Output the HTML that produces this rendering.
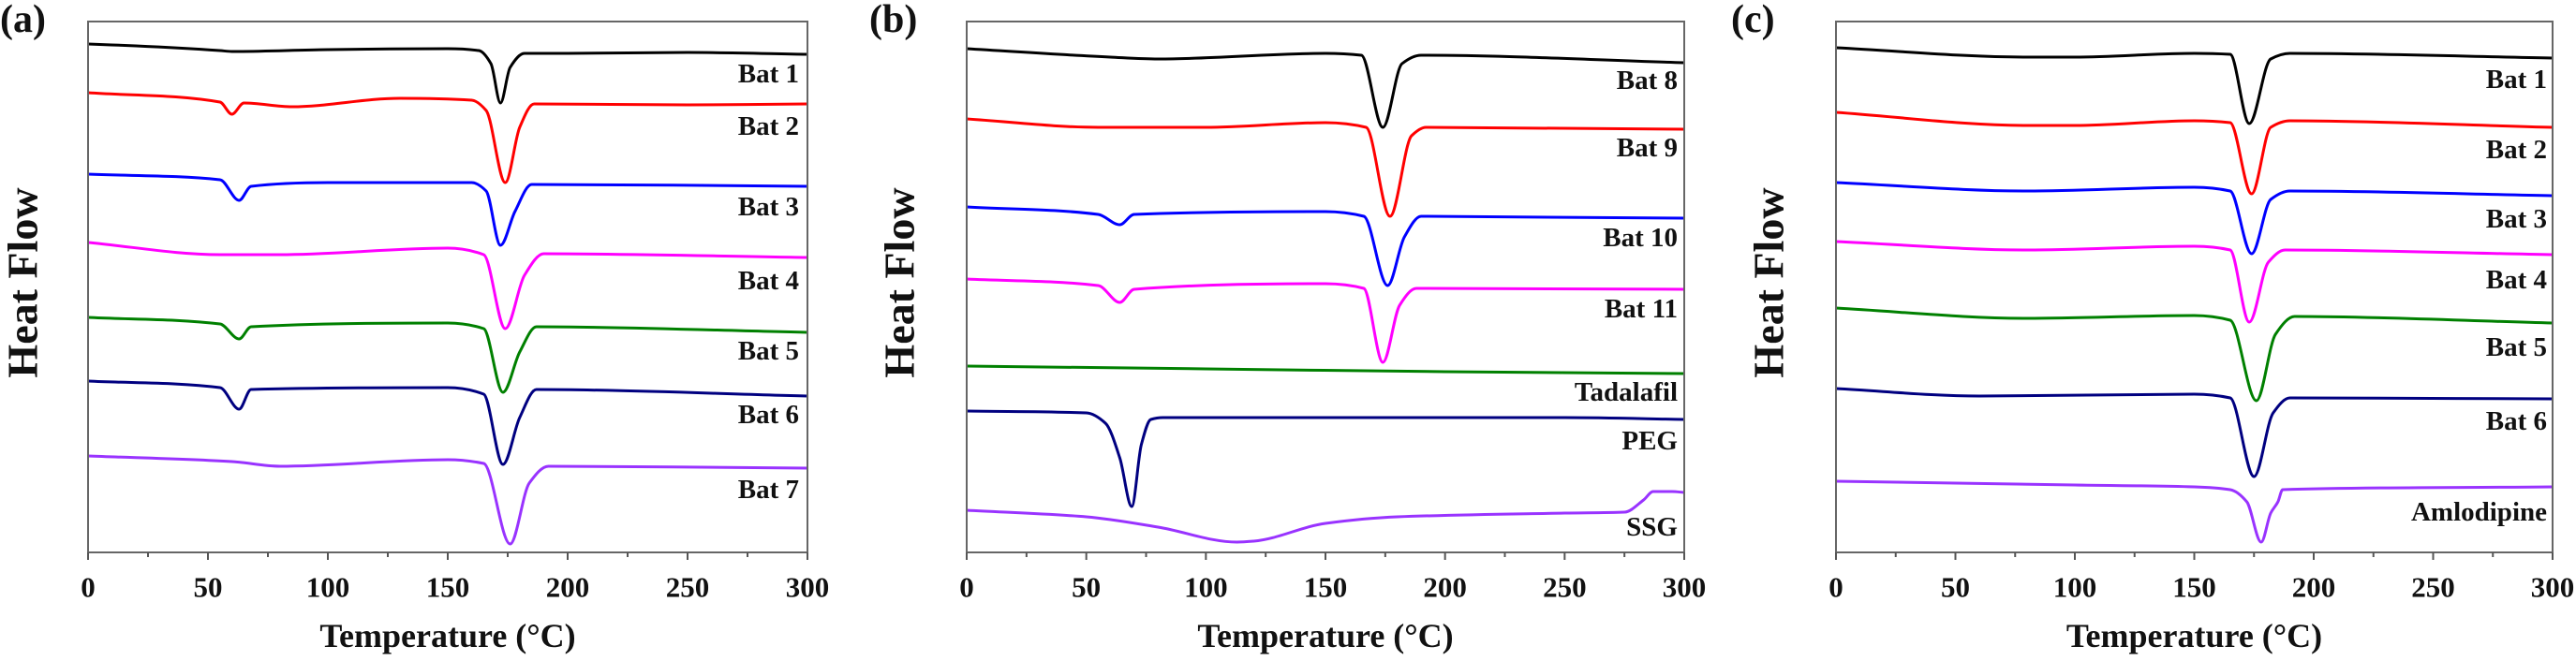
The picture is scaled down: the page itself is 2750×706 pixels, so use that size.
<!DOCTYPE html>
<html><head><meta charset="utf-8">
<style>
html,body{margin:0;padding:0;background:#fff;}
svg{display:block;font-family:"Liberation Serif",serif;font-weight:bold;}
</style></head>
<body>
<svg id="fig" width="2750" height="706" viewBox="0 0 2750 706" xmlns="http://www.w3.org/2000/svg"></svg>
<script>
// ---- data: temperature (°C) and heat flow (arbitrary units, offset-stacked) ----
const xTicks = [0, 50, 100, 150, 200, 250, 300];
const panelTitles = ["(a)", "(b)", "(c)"];

// Panel (a)
const aNames = ["Bat 1","Bat 2","Bat 3","Bat 4","Bat 5","Bat 6","Bat 7"];
const aColors = ["#000000","#ff0000","#0000ff","#ff00ff","#008000","#000080","#9933ff"];
const aLabelY = [511, 455, 369, 290, 215, 147, 67];
const aT1 = [0,20,55,60,100,150,163,168,172,176,182,200,250,300];
const aH1 = [543,541,536,535,537,538,536,522,480,518,533,533,534,532];
const aT2 = [0,55,60,65,85,130,160,166,174,180,186,250,300];
const aH2 = [491,481,468,480,476,485,483,472,395,454,479,478,479];
const aT3 = [0,55,63,68,100,160,166,172,178,185,300];
const aH3 = [404,398,376,391,395,395,386,328,364,393,391];
const aT4 = [0,55,80,150,165,174,182,190,300];
const aH4 = [331,318,318,325,318,239,296,319,315];
const aT5 = [0,55,63,68,150,165,173,180,187,300];
const aH5 = [251,244,228,241,245,239,171,214,241,235];
const aT6 = [0,55,63,68,150,165,173,180,187,300];
const aH6 = [183,176,153,174,176,169,94,144,174,167];
const aT7 = [0,60,80,150,165,176,184,192,300];
const aH7 = [103,97,92,99,95,9,74,92,90];

// Panel (b)
const bNames = ["Bat 8","Bat 9","Bat 10","Bat 11","Tadalafil","PEG","SSG"];
const bColors = ["#000000","#ff0000","#0000ff","#ff00ff","#008000","#000080","#9933ff"];
const bLabelY = [504, 432, 336, 260, 171, 119, 27];
const bT1 = [0,60,80,150,165,174,182,190,300];
const bH1 = [538,529,527,533,531,454,522,531,523];
const bT2 = [0,55,100,150,167,177,186,192,300];
const bH2 = [463,454,454,459,454,359,445,454,452];
const bT3 = [0,55,64,70,150,166,176,183,190,300];
const bH3 = [369,361,350,361,364,359,285,337,359,357];
const bT4 = [0,55,64,70,150,166,174,181,188,300];
const bH4 = [292,285,267,281,287,282,203,264,282,281];
const bT5 = [0,100,200,300];
const bH5 = [199,196,193,191];
const bT6 = [0,50,58,64,69,73,77,82,250,300];
const bH6 = [151,149,138,101,49,115,142,144,144,142];
const bT7 = [0,50,80,113,120,150,180,250,275,283,287,295,300];
const bH7 = [45,38,27,11,12,31,38,42,43,56,65,65,64];

// Panel (c)
const cNames = ["Bat 1","Bat 2","Bat 3","Bat 4","Bat 5","Bat 6","Amlodipine"];
const cColors = ["#000000","#ff0000","#0000ff","#ff00ff","#008000","#000080","#9933ff"];
const cLabelY = [505, 430, 356, 291, 219, 140, 43];
const cT1 = [0,80,100,150,165,173,182,190,300];
const cH1 = [539,529,529,533,532,458,527,533,528];
const cT2 = [0,80,100,150,165,174,182,190,300];
const cH2 = [470,456,456,461,459,383,454,461,454];
const cT3 = [0,80,150,165,174,182,190,300];
const cH3 = [395,386,390,386,319,377,386,381];
const cT4 = [0,80,150,165,173,181,188,300];
const cH4 = [332,323,327,323,246,310,323,318];
const cT5 = [0,80,150,165,176,184,192,300];
const cH5 = [261,250,253,248,162,233,252,245];
const cT6 = [0,60,150,165,175,183,190,300];
const cH6 = [175,167,169,165,81,149,165,164];
const cT7 = [0,100,150,165,172,178,182,185,187,300];
const cH7 = [76,72,70,67,54,11,42,54,67,70];

const panels = [
  {names:aNames, colors:aColors, labelY:aLabelY, T:[aT1,aT2,aT3,aT4,aT5,aT6,aT7], H:[aH1,aH2,aH3,aH4,aH5,aH6,aH7], left:94, right:862, labelRight:853, titleX:0, yTitleX:24},
  {names:bNames, colors:bColors, labelY:bLabelY, T:[bT1,bT2,bT3,bT4,bT5,bT6,bT7], H:[bH1,bH2,bH3,bH4,bH5,bH6,bH7], left:1032, right:1798, labelRight:1791, titleX:928, yTitleX:960},
  {names:cNames, colors:cColors, labelY:cLabelY, T:[cT1,cT2,cT3,cT4,cT5,cT6,cT7], H:[cH1,cH2,cH3,cH4,cH5,cH6,cH7], left:1960, right:2725, labelRight:2719, titleX:1848, yTitleX:1888}
];

const NS = "http://www.w3.org/2000/svg";
const svg = document.getElementById("fig");
const TOP = 23, BOTTOM = 590, YMAX = 567;
function mk(tag, attrs, parent){
  const e = document.createElementNS(NS, tag);
  for (const k in attrs) e.setAttribute(k, attrs[k]);
  (parent||svg).appendChild(e);
  return e;
}
// monotone-in-x cubic (Fritsch–Carlson)
function smoothPath(pts){
  const n = pts.length;
  const dx = [], s = [];
  for (let i = 0; i < n-1; i++) { dx.push(pts[i+1][0]-pts[i][0]); s.push((pts[i+1][1]-pts[i][1])/dx[i]); }
  const m = new Array(n);
  m[0] = s[0]; m[n-1] = s[n-2];
  for (let i = 1; i < n-1; i++) {
    if (s[i-1]*s[i] <= 0) m[i] = 0;
    else { const w1 = 2*dx[i]+dx[i-1], w2 = dx[i]+2*dx[i-1]; m[i] = (w1+w2)/(w1/s[i-1]+w2/s[i]); }
  }
  let d = "M" + pts[0][0].toFixed(1) + "," + pts[0][1].toFixed(1);
  for (let i = 0; i < n-1; i++) {
    const h = dx[i]/3;
    d += " C" + (pts[i][0]+h).toFixed(1) + "," + (pts[i][1]+m[i]*h).toFixed(1) + " " +
         (pts[i+1][0]-h).toFixed(1) + "," + (pts[i+1][1]-m[i+1]*h).toFixed(1) + " " +
         pts[i+1][0].toFixed(1) + "," + pts[i+1][1].toFixed(1);
  }
  return d;
}

panels.forEach((p, pi) => {
  const xScale = t => p.left + (t / 300) * (p.right - p.left);
  const yScale = h => BOTTOM - (h / YMAX) * (BOTTOM - TOP);
  const g = mk("g", {});
  
  

  p.T.forEach((ts, si) => {
    const hs = p.H[si];
    const pts = ts.map((t, i) => [xScale(t), yScale(hs[i])]);
    const path = mk("path", {d:smoothPath(pts), fill:"none", stroke:p.colors[si], "stroke-width":3, "stroke-linejoin":"round"}, g);
    
    
    const lbl = mk("text", {x:p.labelRight, y:yScale(p.labelY[si]), "text-anchor":"end", "dominant-baseline":"central", "font-size":29, fill:"#111"}, g);
    lbl.textContent = p.names[si];
    
    
  });

  const frame = mk("rect", {x:p.left, y:TOP, width:p.right-p.left, height:BOTTOM-TOP, fill:"none", stroke:"#666", "stroke-width":2}, g);
  
  

  for (let t = 0; t <= 300; t += 25) {
    const major = t % 50 === 0;
    const tk = mk("line", {x1:xScale(t), x2:xScale(t), y1:BOTTOM, y2:BOTTOM + (major ? 8 : 5), stroke:"#555", "stroke-width":2}, g);
    
    
  }
  xTicks.forEach(t => {
    const tl = mk("text", {x:xScale(t), y:627, "text-anchor":"middle", "dominant-baseline":"central", "font-size":31, fill:"#111"}, g);
    tl.textContent = t;
    
    
  });

  const xt = mk("text", {x:(p.left+p.right)/2, y:679, "text-anchor":"middle", "dominant-baseline":"central", "font-size":36, fill:"#111"}, g);
  xt.textContent = "Temperature (\u00B0C)";
  
  

  const yt = mk("text", {x:0, y:0, transform:"translate(" + p.yTitleX + ",302) rotate(-90)", "text-anchor":"middle", "dominant-baseline":"central", "font-size":46, fill:"#111"}, g);
  yt.textContent = "Heat Flow";
  
  

  const pt = mk("text", {x:p.titleX, y:34, "font-size":42, fill:"#111"}, g);
  pt.textContent = panelTitles[pi];
  
  
});
</script>
</body></html>
